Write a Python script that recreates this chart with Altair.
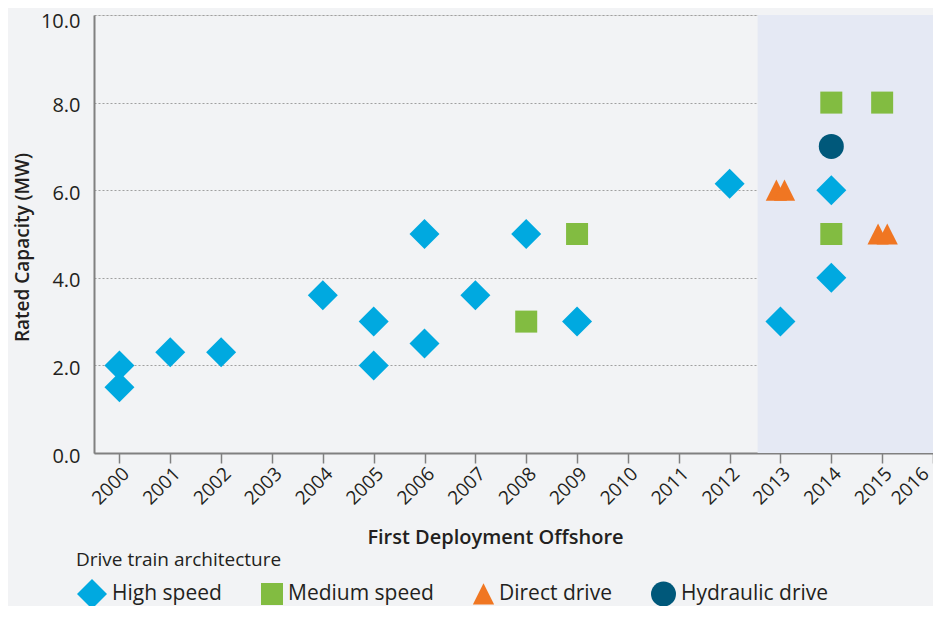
import altair as alt
import pandas as pd

# Data
hs_year = [2000, 2000, 2001, 2002, 2004, 2005, 2005, 2006, 2006, 2007, 2008, 2009, 2012, 2013, 2014, 2014]
hs_mw = [2.0, 1.5, 2.3, 2.3, 3.6, 3.0, 2.0, 5.0, 2.5, 3.6, 5.0, 3.0, 6.15, 3.0, 6.0, 4.0]
ms_year = [2008, 2009, 2014, 2014, 2015]
ms_mw = [3.0, 5.0, 8.0, 5.0, 8.0]
dd_year = [2012.92, 2013.08, 2014.92, 2015.1]
dd_mw = [6.0, 6.0, 5.0, 5.0]
hy_year = [2014]
hy_mw = [7.0]

categories = ["High speed", "Medium speed", "Direct drive", "Hydraulic drive"]
colors = ["#00a9e0", "#82bc41", "#f07622", "#00587a"]
shapes = ["diamond", "square", "M0,-1L1,1L-1,1Z", "circle"]
sizes = [900, 484, 450, 625]
year_ticks = list(range(2000, 2017))
mw_ticks = [0, 2, 4, 6, 8, 10]

shade_start = [2012.55]
shade_end = [2016]

rows = []
for cat, ys, vs in zip(categories, [hs_year, ms_year, dd_year, hy_year], [hs_mw, ms_mw, dd_mw, hy_mw]):
    for y, v in zip(ys, vs):
        rows.append({"year": y, "mw": v, "type": cat})
df = pd.DataFrame(rows)

shade = pd.DataFrame({"x": shade_start, "x2": shade_end, "y": [0], "y2": [10]})

FONT = "Open Sans"
TXT = "#231f20"

xscale = alt.Scale(domain=[1999.5, 2016], nice=False, zero=False)
yscale = alt.Scale(domain=[0, 10], nice=False)

rect = alt.Chart(shade).mark_rect(color="#e5e9f4").encode(
    x=alt.X("x:Q", scale=xscale),
    x2="x2:Q",
    y=alt.Y("y:Q", scale=yscale),
    y2="y2:Q",
)

points = alt.Chart(df).mark_point(filled=True, opacity=1).encode(
    x=alt.X("year:Q", scale=xscale,
            axis=alt.Axis(values=year_ticks, format="d", labelAngle=-45, title="First Deployment Offshore",
                          grid=False, ticks=True, tickSize=10, tickColor="#808080", tickWidth=1.5,
                          domainColor="#808080", domainWidth=2, labelFontSize=19, labelColor=TXT,
                          labelPadding=1, labelAlign="right", labelBaseline="top", labelOverlap=False,
                          labelBound=False, labelFlush=False,
                          labelOffset=alt.condition("datum.value == 2016", alt.value(-14), alt.value(0)),
                          titleFontSize=20, titleFontWeight=600, titleColor=TXT,
                          titleX=401, titleY=84, titleAlign="center", titleBaseline="middle")),
    y=alt.Y("mw:Q", scale=yscale,
            axis=alt.Axis(values=mw_ticks, format=".1f", title="Rated Capacity (MW)", ticks=False,
                          grid=True, gridDash=[2, 2], gridColor="#a0a0a0", gridWidth=1,
                          domainColor="#808080", domainWidth=2, labelFontSize=20, labelColor=TXT,
                          labelPadding=14, labelOverlap=False,
                          labelOffset=alt.condition("datum.value == 10", alt.value(6), alt.value(3)),
                          titleFontSize=19, titleFontWeight=600,
                          titleColor=TXT, titleX=-72, titleY=232, titleAngle=-90, titleAlign="center",
                          titleBaseline="middle")),
    color=alt.Color("type:N", scale=alt.Scale(domain=categories, range=colors),
                    legend=alt.Legend(title="Drive train architecture", orient="none", legendX=-18,
                                      legendY=536, direction="horizontal", titleFontSize=19,
                                      titleFontWeight="normal", titleColor=TXT, titleLimit=600,
                                      labelFontSize=21, labelLimit=300, labelColor=TXT, symbolSize=480,
                                      columnPadding=38, labelOffset=4, titlePadding=8)),
    shape=alt.Shape("type:N", scale=alt.Scale(domain=categories, range=shapes)),
    size=alt.Size("type:N", scale=alt.Scale(type="ordinal", domain=categories, range=sizes), legend=None),
)

chart = alt.layer(rect, points).properties(
    width=839, height=438,
    autosize=alt.AutoSizeParams(type="none"),
    padding={"left": 86, "top": 7, "right": 0, "bottom": 153},
    background="#f2f3f5",
).configure_view(stroke=None).configure(font=FONT)

chart.save("out.html", embed_options={"renderer": "svg", "actions": False})
